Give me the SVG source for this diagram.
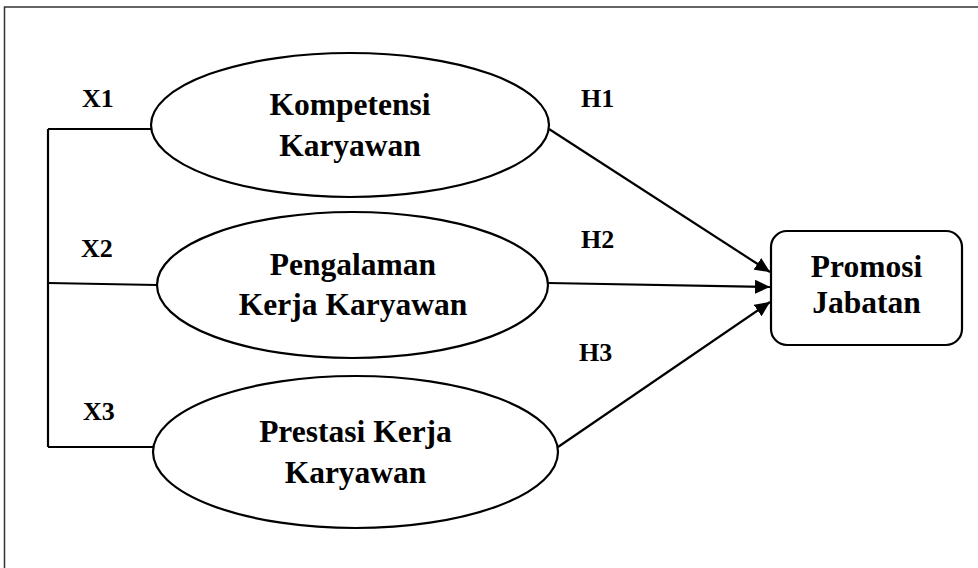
<svg xmlns="http://www.w3.org/2000/svg" width="978" height="568" viewBox="0 0 978 568">
<style>
  .shape { fill: #ffffff; stroke: #000000; stroke-width: 2.2; }
  .line { fill: none; stroke: #000000; stroke-width: 2.2; }
  .node { font-family: "Liberation Serif", "Times New Roman", serif; font-weight: bold; font-size: 31.5px; fill: #000000; text-anchor: middle; }
  .lbl { font-family: "Liberation Serif", "Times New Roman", serif; font-weight: bold; font-size: 26px; fill: #000000; }
  .frame { fill: none; stroke: #333333; stroke-width: 1.5; }
</style>
<defs>
  <marker id="arrow" markerUnits="userSpaceOnUse" markerWidth="16" markerHeight="14" refX="15" refY="7" orient="auto">
    <path d="M0,0 L15,7 L0,14 Z" fill="#000000"/>
  </marker>
</defs>
<rect width="978" height="568" fill="#ffffff"/>
<path class="frame" d="M4.5,568 L4.5,7 L978,7"/>

<g id="connectors">
  <path class="line" d="M48,129 L48,447"/>
  <path class="line" d="M48,129 L152,129"/>
  <path class="line" d="M48,283 L157,285"/>
  <path class="line" d="M48,447 L153,447"/>
  <path class="line" d="M549,129 L770,272" marker-end="url(#arrow)"/>
  <path class="line" d="M548,283 L770,287" marker-end="url(#arrow)"/>
  <path class="line" d="M558,447 L770,302" marker-end="url(#arrow)"/>
</g>

<g id="labels">
  <text class="lbl" x="82" y="107">X1</text>
  <text class="lbl" x="81" y="257">X2</text>
  <text class="lbl" x="83" y="420">X3</text>
  <text class="lbl" x="581" y="107">H1</text>
  <text class="lbl" x="581" y="248">H2</text>
  <text class="lbl" x="579" y="361">H3</text>
</g>

<g id="kompetensi">
  <ellipse class="shape" cx="350" cy="125" rx="199" ry="72"/>
  <text class="node" x="350" y="115">Kompetensi</text>
  <text class="node" x="350" y="156">Karyawan</text>
</g>

<g id="pengalaman">
  <ellipse class="shape" cx="352.5" cy="285" rx="195.5" ry="73"/>
  <text class="node" x="353" y="275">Pengalaman</text>
  <text class="node" x="353" y="315">Kerja Karyawan</text>
</g>

<g id="prestasi">
  <ellipse class="shape" cx="355.5" cy="452" rx="202.5" ry="76"/>
  <text class="node" x="355.5" y="442">Prestasi Kerja</text>
  <text class="node" x="355.5" y="483">Karyawan</text>
</g>

<g id="promosi">
  <rect class="shape" x="771" y="231" width="191" height="114" rx="16" ry="16"/>
  <text class="node" x="866.5" y="277">Promosi</text>
  <text class="node" x="866.5" y="313">Jabatan</text>
</g>
</svg>
